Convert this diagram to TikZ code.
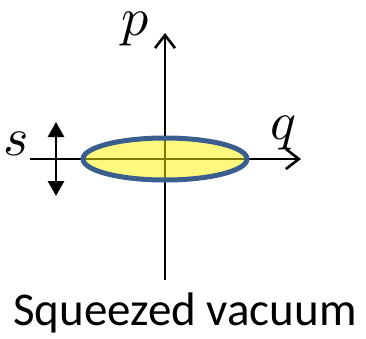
\documentclass[tikz,border=0pt]{standalone}
\usepackage{fontspec}
\setmainfont{Carlito}
\usetikzlibrary{arrows.meta,shapes.geometric}
\definecolor{ellblue}{HTML}{3A5F8E}
\tikzset{
  axis/.style={line width=2.9pt,-{Straight Barb[length=13pt,width=20pt,line width=2.6pt]}},
  sarrow/.style={line width=2.9pt,{Triangle[length=15pt,width=16pt]}-{Triangle[length=15pt,width=16pt]}},
  lbl/.style={scale=5.4, inner sep=0pt, anchor=base},
}
\begin{document}
\begin{tikzpicture}[x=1pt,y=1pt]
\useasboundingbox (0,0) rectangle (366,-338);
\coordinate (qstart) at (30,-159);
\coordinate (qend) at (301,-159);
\coordinate (pstart) at (165,-280);
\coordinate (pend) at (165,-33);
\coordinate (stop) at (56,-122);
\coordinate (sbot) at (56,-196);
\draw[axis] (qstart) -- (qend);
\draw[axis] (pstart) -- (pend);
\node[fill=yellow, fill opacity=0.5, draw=ellblue, draw opacity=1, line width=5pt,
      ellipse, minimum width=164pt, minimum height=42pt] (ell) at (165,-159) {};
\draw[sarrow] (stop) -- (sbot);
\node[lbl] (p) at (135,-35.5) {$p$};
\node[lbl] (q) at (284,-139.5) {$q$};
\node[lbl] (s) at (16,-155) {$s$};
\node[font=\fontsize{47}{56}\selectfont, inner sep=0pt, anchor=base] (title) at (185,-325) {Squeezed vacuum};
\end{tikzpicture}
\end{document}
